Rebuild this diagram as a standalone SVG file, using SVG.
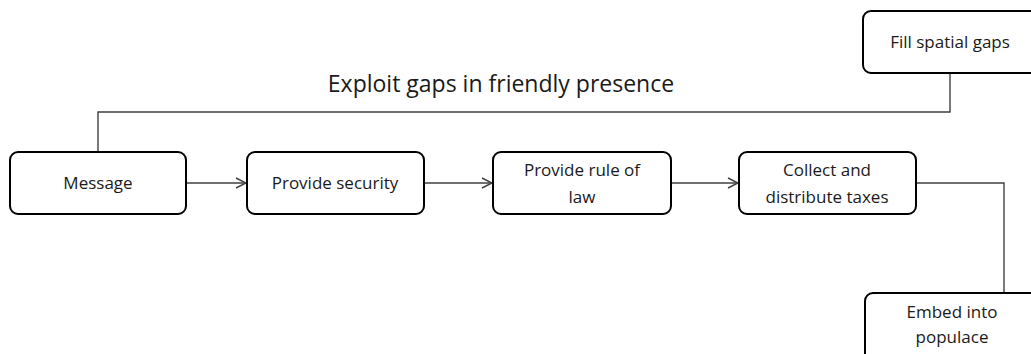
<svg xmlns="http://www.w3.org/2000/svg" width="1031" height="354" viewBox="0 0 1031 354">
<style>
.box{fill:#fff;stroke:#000;stroke-width:2}
.t{font-family:"Open Sans",sans-serif;font-size:17px;fill:#1a1a1a;text-anchor:middle}
.title{font-family:"Open Sans",sans-serif;font-size:23px;fill:#1a1a1a;text-anchor:middle}
.c{fill:none;stroke:#404040;stroke-width:1.4}
</style>
<defs>
<marker id="ah" viewBox="0 0 12 12" refX="11" refY="6" markerWidth="12" markerHeight="12" markerUnits="userSpaceOnUse" orient="auto">
<path d="M1,1 L11,6 L1,11" fill="none" stroke="#404040" stroke-width="1.4"/>
</marker>
</defs>
<rect width="1031" height="354" fill="#fff"/>
<text class="title" x="501" y="92">Exploit gaps in friendly presence</text>
<g id="connectors">
<polyline class="c" points="98,152 98,112 950,112 950,73"/>
<line class="c" x1="186" y1="183" x2="246" y2="183" marker-end="url(#ah)"/>
<line class="c" x1="424" y1="183" x2="492" y2="183" marker-end="url(#ah)"/>
<line class="c" x1="671" y1="183" x2="738" y2="183" marker-end="url(#ah)"/>
<polyline class="c" points="916,183 1004,183 1004,293"/>
</g>
<g id="message">
<rect class="box" x="10" y="152" width="176" height="62" rx="8"/>
<text class="t" x="98" y="189">Message</text>
</g>
<g id="provide-security">
<rect class="box" x="247" y="152" width="177" height="62" rx="8"/>
<text class="t" x="335" y="189">Provide security</text>
</g>
<g id="provide-rule-of-law">
<rect class="box" x="493" y="152" width="178" height="62" rx="8"/>
<text class="t" x="582" y="176">Provide rule of</text>
<text class="t" x="582" y="203">law</text>
</g>
<g id="collect-taxes">
<rect class="box" x="739" y="152" width="177" height="62" rx="8"/>
<text class="t" x="827" y="176">Collect and</text>
<text class="t" x="827" y="203">distribute taxes</text>
</g>
<g id="fill-spatial-gaps">
<rect class="box" x="863" y="11" width="180" height="62" rx="8"/>
<text class="t" x="950" y="48">Fill spatial gaps</text>
</g>
<g id="embed-into-populace">
<rect class="box" x="865" y="293" width="180" height="70" rx="8"/>
<text class="t" x="952" y="318">Embed into</text>
<text class="t" x="952" y="343">populace</text>
</g>
</svg>
